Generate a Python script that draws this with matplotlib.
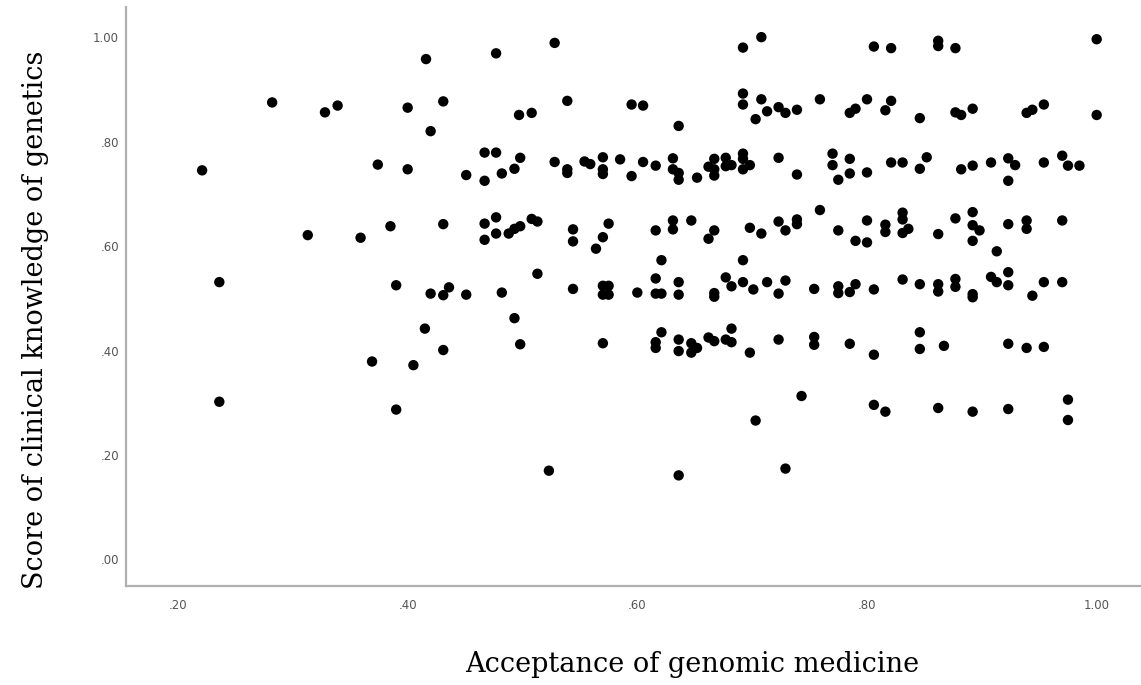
import matplotlib
matplotlib.use("Agg")
import matplotlib.pyplot as plt
from matplotlib.ticker import FuncFormatter

# acceptance of genomic medicine (x) / score of clinical knowledge (y)
acceptance = [
    0.416, 0.282, 0.328, 0.339, 0.400, 0.431, 0.420, 0.221, 0.374, 0.400,
    0.451, 0.313, 0.359, 0.385, 0.431, 0.236, 0.390, 0.420, 0.436, 0.431,
    0.451, 0.415, 0.431, 0.369, 0.405, 0.236, 0.390, 0.477, 0.528, 0.692,
    0.708, 0.497, 0.508, 0.539, 0.595, 0.605, 0.636, 0.692, 0.692, 0.708,
    0.703, 0.713, 0.723, 0.729, 0.739, 0.467, 0.477, 0.467, 0.482, 0.493,
    0.498, 0.528, 0.539, 0.539, 0.554, 0.559, 0.570, 0.570, 0.570, 0.585,
    0.595, 0.605, 0.616, 0.631, 0.631, 0.636, 0.636, 0.652, 0.662, 0.667,
    0.667, 0.667, 0.677, 0.677, 0.682, 0.692, 0.692, 0.692, 0.698, 0.723,
    0.739, 0.467, 0.477, 0.467, 0.477, 0.488, 0.493, 0.498, 0.508, 0.513,
    0.544, 0.544, 0.570, 0.575, 0.564, 0.616, 0.631, 0.631, 0.647, 0.667,
    0.662, 0.698, 0.708, 0.723, 0.729, 0.739, 0.739, 0.513, 0.482, 0.544,
    0.570, 0.575, 0.570, 0.575, 0.600, 0.616, 0.616, 0.621, 0.621, 0.636,
    0.636, 0.667, 0.667, 0.677, 0.682, 0.692, 0.692, 0.701, 0.713, 0.723,
    0.729, 0.493, 0.498, 0.570, 0.621, 0.616, 0.616, 0.636, 0.636, 0.647,
    0.647, 0.652, 0.662, 0.667, 0.677, 0.682, 0.682, 0.698, 0.723, 0.743,
    0.703, 0.523, 0.636, 0.729, 0.806, 0.821, 0.862, 0.862, 0.877, 1.000,
    0.759, 0.785, 0.790, 0.800, 0.816, 0.821, 0.846, 0.877, 0.882, 0.892,
    0.939, 0.944, 0.954, 1.000, 0.770, 0.770, 0.785, 0.775, 0.785, 0.800,
    0.821, 0.831, 0.852, 0.846, 0.882, 0.892, 0.908, 0.923, 0.929, 0.923,
    0.954, 0.970, 0.975, 0.985, 0.759, 0.775, 0.790, 0.800, 0.800, 0.816,
    0.816, 0.831, 0.831, 0.831, 0.836, 0.862, 0.877, 0.892, 0.892, 0.898,
    0.892, 0.913, 0.923, 0.939, 0.939, 0.970, 0.754, 0.775, 0.775, 0.785,
    0.790, 0.806, 0.831, 0.846, 0.862, 0.862, 0.877, 0.877, 0.892, 0.892,
    0.908, 0.913, 0.923, 0.923, 0.944, 0.954, 0.970, 0.754, 0.754, 0.785,
    0.806, 0.846, 0.846, 0.867, 0.923, 0.939, 0.954, 0.806, 0.816, 0.862,
    0.892, 0.923, 0.975, 0.975,
]
knowledge = [
    0.958, 0.875, 0.856, 0.869, 0.865, 0.877, 0.820, 0.745, 0.756, 0.747,
    0.736, 0.621, 0.616, 0.638, 0.642, 0.531, 0.525, 0.509, 0.521, 0.506,
    0.507, 0.442, 0.401, 0.379, 0.372, 0.302, 0.287, 0.969, 0.989, 0.980,
    1.000, 0.851, 0.855, 0.878, 0.871, 0.869, 0.830, 0.892, 0.871, 0.881,
    0.843, 0.858, 0.866, 0.855, 0.861, 0.779, 0.779, 0.725, 0.739, 0.748,
    0.769, 0.761, 0.747, 0.740, 0.762, 0.757, 0.770, 0.747, 0.738, 0.766,
    0.734, 0.761, 0.754, 0.768, 0.747, 0.740, 0.727, 0.731, 0.752, 0.767,
    0.747, 0.735, 0.769, 0.753, 0.755, 0.777, 0.767, 0.747, 0.755, 0.769,
    0.737, 0.643, 0.655, 0.612, 0.624, 0.624, 0.633, 0.638, 0.652, 0.647,
    0.632, 0.609, 0.617, 0.643, 0.595, 0.630, 0.649, 0.632, 0.649, 0.630,
    0.614, 0.635, 0.624, 0.647, 0.630, 0.651, 0.642, 0.547, 0.511, 0.518,
    0.524, 0.524, 0.507, 0.507, 0.511, 0.538, 0.509, 0.509, 0.573, 0.531,
    0.507, 0.510, 0.503, 0.540, 0.523, 0.573, 0.531, 0.517, 0.531, 0.509,
    0.534, 0.462, 0.412, 0.414, 0.435, 0.416, 0.405, 0.421, 0.399, 0.414,
    0.396, 0.405, 0.425, 0.418, 0.421, 0.416, 0.442, 0.396, 0.421, 0.313,
    0.266, 0.170, 0.161, 0.174, 0.982, 0.979, 0.993, 0.983, 0.979, 0.996,
    0.881, 0.855, 0.863, 0.881, 0.860, 0.878, 0.845, 0.856, 0.851, 0.863,
    0.855, 0.861, 0.871, 0.851, 0.777, 0.755, 0.767, 0.727, 0.739, 0.741,
    0.760, 0.760, 0.770, 0.748, 0.747, 0.754, 0.760, 0.768, 0.755, 0.725,
    0.760, 0.773, 0.754, 0.754, 0.669, 0.630, 0.610, 0.607, 0.649, 0.641,
    0.627, 0.664, 0.651, 0.625, 0.633, 0.623, 0.653, 0.665, 0.640, 0.630,
    0.610, 0.590, 0.642, 0.649, 0.633, 0.649, 0.518, 0.523, 0.510, 0.512,
    0.527, 0.517, 0.536, 0.527, 0.527, 0.513, 0.537, 0.522, 0.508, 0.502,
    0.541, 0.531, 0.550, 0.525, 0.505, 0.531, 0.531, 0.426, 0.411, 0.413,
    0.392, 0.435, 0.403, 0.409, 0.413, 0.405, 0.407, 0.296, 0.283, 0.290,
    0.283, 0.288, 0.306, 0.267,
]
x_ticks = [0.2, 0.4, 0.6, 0.8, 1.0]
y_ticks = [0.0, 0.2, 0.4, 0.6, 0.8, 1.0]


def spss_fmt(v, pos):
    s = f"{v:.2f}"
    return s[1:] if s.startswith("0") else s


fig = plt.figure(figsize=(11.41, 6.85), dpi=100)
ax = fig.add_axes([0.1104, 0.1445, 0.8896, 0.8455])

ax.scatter(acceptance, knowledge, s=56, c="black", edgecolors="none", zorder=3)

ax.set_xlim(0.1547, 1.0386)
ax.set_ylim(-0.0508, 1.058)
ax.set_xticks(x_ticks)
ax.set_yticks(y_ticks)
ax.xaxis.set_major_formatter(FuncFormatter(spss_fmt))
ax.yaxis.set_major_formatter(FuncFormatter(spss_fmt))
ax.tick_params(length=0, labelsize=8.5, labelcolor="#555555")
ax.tick_params(axis="x", pad=9)
ax.tick_params(axis="y", pad=5)

for side in ["top", "right"]:
    ax.spines[side].set_visible(False)
for side in ["left", "bottom"]:
    ax.spines[side].set_color("#b0b0b0")
    ax.spines[side].set_linewidth(1.6)

fig.text(0.607, 1 - 665 / 685, "Acceptance of genomic medicine",
         family="DejaVu Serif", fontsize=19.5, ha="center", va="center")
fig.text(0.031, 1 - 320 / 685, "Score of clinical knowledge of genetics",
         family="DejaVu Serif", fontsize=19.5, ha="center", va="center",
         rotation=90)

fig.savefig("out.png", dpi=100, facecolor="white")
